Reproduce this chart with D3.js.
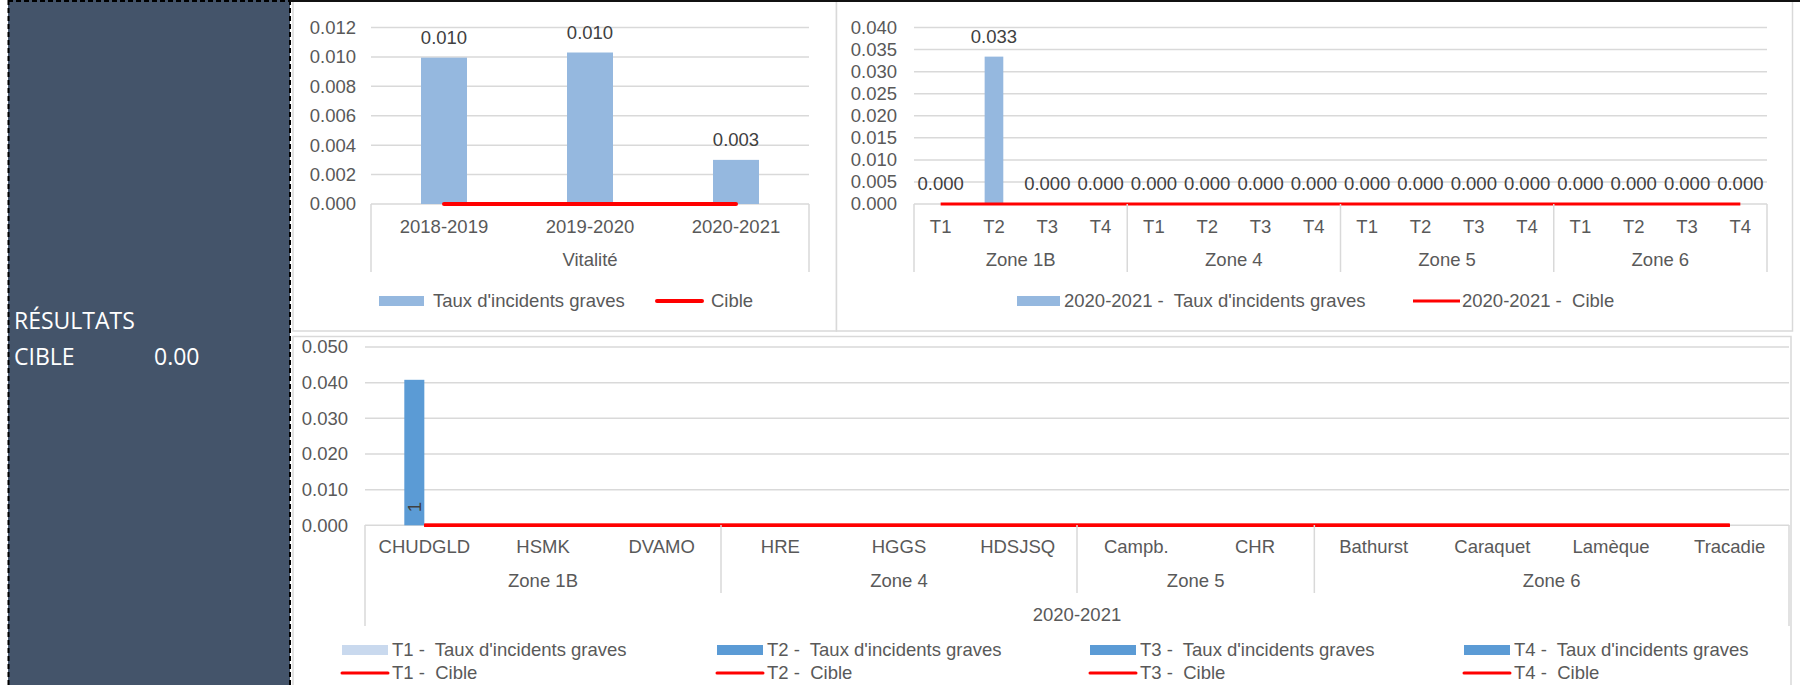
<!DOCTYPE html>
<html><head><meta charset="utf-8">
<script src="https://cdn.jsdelivr.net/npm/d3@7"></script>
<style>
body{margin:0;background:#fff}
svg text{font-family:"Liberation Sans",Arial,sans-serif;white-space:pre}
</style>
</head><body>
<svg id="c" width="1800" height="685"></svg>
<script>
// ---------- DATA ----------
// Chart 1 : Vitalité by year
const vitaliteYears = ["2018-2019", "2019-2020", "2020-2021"];
const vitaliteGroup = "Vitalité";
const vitaliteTaux = [0.00995, 0.0103, 0.0030];
const vitaliteLabels = ["0.010", "0.010", "0.003"];
const vitaliteCible = [0, 0, 0];
const vitaliteTicks = [0, 0.002, 0.004, 0.006, 0.008, 0.010, 0.012];

// Chart 2 : 2020-2021 by zone and quarter
const zones = ["Zone 1B", "Zone 4", "Zone 5", "Zone 6"];
const trimestres = ["T1", "T2", "T3", "T4"];
const zoneTaux2021 = [0, 0.0334, 0, 0, 0, 0, 0, 0, 0, 0, 0, 0, 0, 0, 0, 0];
const zoneCible2021 = [0, 0, 0, 0, 0, 0, 0, 0, 0, 0, 0, 0, 0, 0, 0, 0];
const zoneTicks = [0, 0.005, 0.010, 0.015, 0.020, 0.025, 0.030, 0.035, 0.040];

// Chart 3 : 2020-2021 by facility, series T1..T4
const etablissements = ["CHUDGLD", "HSMK", "DVAMO", "HRE", "HGGS", "HDSJSQ", "Campb.", "CHR", "Bathurst", "Caraquet", "Lamèque", "Tracadie"];
const etabZones = ["Zone 1B", "Zone 1B", "Zone 1B", "Zone 4", "Zone 4", "Zone 4", "Zone 5", "Zone 5", "Zone 6", "Zone 6", "Zone 6", "Zone 6"];
const etabYear = "2020-2021";
const etabT1Taux = [0, 0, 0, 0, 0, 0, 0, 0, 0, 0, 0, 0];
const etabT2Taux = [0.0408, 0, 0, 0, 0, 0, 0, 0, 0, 0, 0, 0];
const etabT3Taux = [0, 0, 0, 0, 0, 0, 0, 0, 0, 0, 0, 0];
const etabT4Taux = [0, 0, 0, 0, 0, 0, 0, 0, 0, 0, 0, 0];
const etabT2Labels = ["1", "", "", "", "", "", "", "", "", "", "", ""];
const etabCible = [0, 0, 0, 0, 0, 0, 0, 0, 0, 0, 0, 0];
const etabTicks = [0, 0.010, 0.020, 0.030, 0.040, 0.050];

// Side panel
const panelRows = [["RÉSULTATS", ""], ["CIBLE", "0.00"]];

// ---------- DRAW ----------
const svg = d3.select("#c");
const GRID = "#d9d9d9", TXT = "#595959", LBL = "#404040", RED = "#ff0000";
const FS = 18.5;
const fmt = d3.format(".3f");

// left panel
svg.append("rect").attr("x", 8).attr("y", 0).attr("width", 282).attr("height", 685).attr("fill", "#44546a");
[[8.5, 0, 8.5, 685], [290, 0, 290, 685], [8, 1, 290, 1]].forEach(d => {
  svg.append("line").attr("x1", d[0]).attr("y1", d[1]).attr("x2", d[2]).attr("y2", d[3])
    .attr("stroke", "#000").attr("stroke-width", 2).attr("stroke-dasharray", "5,3");
});
const pt = svg.append("g").attr("fill", "#fff").attr("font-size", 23);
panelRows.forEach((r, i) => {
  pt.append("text").attr("x", 14).attr("y", 329 + i * 36).style("font-family", "'Open Sans',sans-serif").text(r[0]);
  if (r[1]) pt.append("text").attr("x", 154).attr("y", 329 + i * 36).style("font-family", "'Open Sans',sans-serif").text(r[1]);
});

// panels
function panel(x, y, w, h) {
  svg.append("rect").attr("x", x).attr("y", y).attr("width", w).attr("height", h)
    .attr("fill", "#fff").attr("stroke", GRID).attr("stroke-width", 1.5);
}
panel(293, 1, 543.5, 330);
panel(836.5, 1, 956, 330);
panel(293, 336.5, 1498, 360);
svg.append("line").attr("x1", 290).attr("x2", 1800).attr("y1", 1).attr("y2", 1).attr("stroke", "#111").attr("stroke-width", 2);

function yAxis(g, y, ticks, x0, x1, labelX) {
  ticks.forEach(t => {
    g.append("line").attr("x1", x0).attr("x2", x1).attr("y1", y(t)).attr("y2", y(t))
      .attr("stroke", GRID).attr("stroke-width", 1.5);
    g.append("text").attr("x", labelX).attr("y", y(t)).attr("dy", "0.35em")
      .attr("text-anchor", "end").attr("font-size", FS).attr("fill", TXT).text(fmt(t));
  });
}
function vline(g, x, y0, y1) {
  g.append("line").attr("x1", x).attr("x2", x).attr("y1", y0).attr("y2", y1)
    .attr("stroke", GRID).attr("stroke-width", 1.5);
}
function label(g, x, y, s, color) {
  return g.append("text").attr("x", x).attr("y", y).attr("dy", "0.35em").attr("text-anchor", "middle")
    .attr("font-size", FS).attr("fill", color || TXT).text(s);
}
function legText(g, x, y, s) {
  g.append("text").attr("x", x).attr("y", y).attr("dy", "0.35em").attr("font-size", FS).attr("fill", TXT).text(s);
}

// ---------- Chart 1 ----------
{
  const g = svg.append("g");
  const y = d3.scaleLinear().domain([0, 0.012]).range([204, 27.5]);
  const x = d3.scaleBand().domain(vitaliteYears).range([371, 809]).paddingInner(0.685).paddingOuter(0.3425);
  yAxis(g, y, vitaliteTicks, 371, 809, 356);
  g.selectAll("rect.bar").data(vitaliteYears).join("rect").attr("class", "bar")
    .attr("x", d => x(d)).attr("width", x.bandwidth())
    .attr("y", (d, i) => y(vitaliteTaux[i])).attr("height", (d, i) => y(0) - y(vitaliteTaux[i]))
    .attr("fill", "#95b8df");
  vitaliteYears.forEach((d, i) => label(g, x(d) + x.bandwidth() / 2, y(vitaliteTaux[i]) - 20, vitaliteLabels[i], LBL));
  const line = d3.line().x((d, i) => x(vitaliteYears[i]) + x.bandwidth() / 2).y(d => y(d));
  g.append("path").attr("d", line(vitaliteCible)).attr("fill", "none").attr("stroke", RED)
    .attr("stroke-width", 4).attr("stroke-linecap", "round");
  vline(g, 371, 204, 272); vline(g, 809, 204, 272);
  vitaliteYears.forEach(d => label(g, x(d) + x.bandwidth() / 2, 227, d));
  label(g, 590, 260, vitaliteGroup);
  // legend
  g.append("rect").attr("x", 379).attr("y", 296).attr("width", 45).attr("height", 10).attr("fill", "#95b8df");
  legText(g, 433, 301, "Taux d'incidents graves");
  g.append("line").attr("x1", 657).attr("x2", 702).attr("y1", 301).attr("y2", 301).attr("stroke", RED).attr("stroke-width", 4).attr("stroke-linecap", "round");
  legText(g, 711, 301, "Cible");
}

// ---------- Chart 2 ----------
{
  const g = svg.append("g");
  const cats = zones.flatMap(z => trimestres.map(t => z + "|" + t));
  const y = d3.scaleLinear().domain([0, 0.04]).range([204, 27.5]);
  const x = d3.scaleBand().domain(cats).range([914, 1767]).paddingInner(0.65).paddingOuter(0.325);
  yAxis(g, y, zoneTicks, 914, 1767, 897);
  const c = d => x(d) + x.bandwidth() / 2;
  g.selectAll("rect.bar").data(cats).join("rect").attr("class", "bar")
    .attr("x", d => x(d)).attr("width", x.bandwidth())
    .attr("y", (d, i) => y(zoneTaux2021[i])).attr("height", (d, i) => y(0) - y(zoneTaux2021[i]))
    .attr("fill", "#95b8df");
  cats.forEach((d, i) => label(g, c(d), y(zoneTaux2021[i]) - 20, fmt(zoneTaux2021[i]), LBL));
  const line = d3.line().x((d, i) => c(cats[i])).y(d => y(d));
  g.append("path").attr("d", line(zoneCible2021)).attr("fill", "none").attr("stroke", RED).attr("stroke-width", 3);
  const step = x.step();
  zones.forEach(z => {
    vline(g, x(z + "|T1") - step * 0.325, 204, 272);
    label(g, (x(z + "|T1") + x(z + "|T4") + x.bandwidth()) / 2, 260, z);
  });
  vline(g, 1767, 204, 272);
  cats.forEach(d => label(g, c(d), 227, d.split("|")[1]));
  g.append("rect").attr("x", 1017).attr("y", 296).attr("width", 43).attr("height", 10).attr("fill", "#95b8df");
  legText(g, 1064, 301, "2020-2021 -  Taux d'incidents graves");
  g.append("line").attr("x1", 1413).attr("x2", 1460).attr("y1", 301).attr("y2", 301).attr("stroke", RED).attr("stroke-width", 3);
  legText(g, 1462, 301, "2020-2021 -  Cible");
}

// ---------- Chart 3 ----------
{
  const g = svg.append("g");
  const series = [
    {name: "T1", taux: etabT1Taux, color: "#c9d9ee"},
    {name: "T2", taux: etabT2Taux, color: "#5b9bd5", labels: etabT2Labels},
    {name: "T3", taux: etabT3Taux, color: "#5b9bd5"},
    {name: "T4", taux: etabT4Taux, color: "#5b9bd5"}
  ];
  const y = d3.scaleLinear().domain([0, 0.05]).range([525.3, 347]);
  const x0 = d3.scaleBand().domain(etablissements).range([365, 1789]).paddingInner(0.325).paddingOuter(0.1625);
  const x1 = d3.scaleBand().domain(series.map(s => s.name)).range([0, x0.bandwidth()]);
  yAxis(g, y, etabTicks, 365, 1789, 348);
  series.forEach(s => {
    g.selectAll(null).data(etablissements).join("rect")
      .attr("x", d => x0(d) + x1(s.name)).attr("width", x1.bandwidth())
      .attr("y", (d, i) => y(s.taux[i])).attr("height", (d, i) => y(0) - y(s.taux[i]))
      .attr("fill", s.color);
    if (s.labels) etablissements.forEach((d, i) => {
      if (!s.labels[i]) return;
      const cx = x0(d) + x1(s.name) + x1.bandwidth() / 2, cy = 507;
      g.append("text").attr("transform", `translate(${cx},${cy}) rotate(-90)`).attr("dy", "0.35em")
        .attr("text-anchor", "middle").attr("font-size", FS).attr("fill", LBL).text(s.labels[i]);
    });
  });
  const c = d => x0(d) + x0.bandwidth() / 2;
  const line = d3.line().x((d, i) => c(etablissements[i])).y(d => y(d));
  series.forEach(() => g.append("path").attr("d", line(etabCible)).attr("fill", "none").attr("stroke", RED).attr("stroke-width", 3));
  // multi level axis
  const zoneNames = Array.from(new Set(etabZones));
  const step = x0.step();
  zoneNames.forEach(z => {
    const idx = etabZones.map((e, i) => e === z ? i : -1).filter(i => i >= 0);
    const left = x0(etablissements[idx[0]]) - step * 0.1625;
    const right = x0(etablissements[idx[idx.length - 1]]) + x0.bandwidth() + step * 0.1625;
    vline(g, left, 525, z === zoneNames[0] ? 626 : 593);
    label(g, (left + right) / 2, 581, z);
  });
  vline(g, 1789, 525, 626);
  etablissements.forEach(d => label(g, c(d), 547, d));
  label(g, (365 + 1789) / 2, 615, etabYear);
  // legend
  const lx = [342, 717, 1090, 1464];
  series.forEach((s, i) => {
    g.append("rect").attr("x", lx[i]).attr("y", 645).attr("width", 46).attr("height", 10).attr("fill", s.color);
    legText(g, lx[i] + 50, 650, s.name + " -  Taux d'incidents graves");
    g.append("line").attr("x1", lx[i]).attr("x2", lx[i] + 46).attr("y1", 673).attr("y2", 673).attr("stroke", RED).attr("stroke-width", 3).attr("stroke-linecap", "round");
    legText(g, lx[i] + 50, 673, s.name + " -  Cible");
  });
}
</script>
</body></html>
